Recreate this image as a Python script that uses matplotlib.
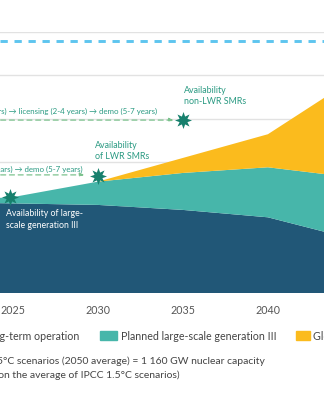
import numpy as np
import matplotlib.pyplot as plt
from matplotlib.patches import Rectangle

plt.rcParams['font.family'] = ['Lato', 'DejaVu Sans']

# capacity in GW (stacked)
years = [2020, 2025, 2030, 2035, 2040, 2045, 2050]
lto = [418, 412, 405, 382, 348, 248, 180]          # existing fleet with long-term operation
gen3 = [0, 29, 107, 170, 230, 283, 300]            # planned large-scale generation III
smr = [0, 0, 0, 69, 152, 452, 680]                 # global SMR potential
ipcc_target = 1160
xticks = [2025, 2030, 2035, 2040, 2045, 2050]

c_blue = '#215777'
c_teal = '#47b6aa'
c_yellow = '#fbbb1d'
c_dash = '#5ec5ef'
c_star = '#17806d'
c_text = '#2a9a82'
c_arrow = '#7cc28d'

W, H = 324, 400
fig = plt.figure(figsize=(W / 100, H / 100), dpi=100)
ax = fig.add_axes([0, 107 / H, 1, 261 / H])

ax.stackplot(years, lto, gen3, smr, colors=[c_blue, c_teal, c_yellow], zorder=2)
ax.axhline(ipcc_target, color=c_dash, lw=2.1, ls=(0, (2.5, 2.3)), zorder=3)

ax.set_xticks(xticks)
ax.set_yticks(range(200, 1201, 200))
ax.set_xlim(2024.24, 2043.3)
ax.set_ylim(0, 1200)
ax.yaxis.grid(True, color='#e2e2e2', lw=1, zorder=0)
ax.set_axisbelow(True)
ax.tick_params(axis='x', length=0, pad=9, labelsize=7.7, labelcolor='#555555')
ax.tick_params(axis='y', left=False, labelleft=False)
for s in ax.spines.values():
    s.set_visible(False)

# pathway arrows
ax.annotate('', xy=(2034.6, 795), xytext=(2020, 795),
            arrowprops=dict(arrowstyle='-|>', color=c_arrow, lw=0.9, ls=(0, (4, 3)),
                            mutation_scale=6), zorder=4)
ax.annotate('', xy=(2029.35, 543), xytext=(2020, 543),
            arrowprops=dict(arrowstyle='-|>', color=c_arrow, lw=0.9, ls=(0, (4, 3)),
                            mutation_scale=6), zorder=4)
ax.text(2033.5, 834, 'design (5-10 years) \u2192 licensing (2-4 years) \u2192 demo (5-7 years)',
        ha='right', va='center', fontsize=5.7, color=c_text, zorder=5)
ax.text(2029.1, 566, 'design (5-10 years) \u2192 demo (5-7 years)',
        ha='right', va='center', fontsize=5.7, color=c_text, zorder=5)

# availability milestones
star_x = [2024.85, 2030, 2035]
star_y = [443, 538, 795]
ax.scatter(star_x, star_y, marker=(8, 1, 0), s=150, color=c_star, zorder=6, lw=0)

ax.text(2035.06, 906, 'Availability\nnon-LWR SMRs', ha='left', va='center',
        fontsize=6.4, color=c_text, linespacing=1.3, zorder=5)
ax.text(2029.82, 653, 'Availability\nof LWR SMRs', ha='left', va='center',
        fontsize=6.4, color=c_text, linespacing=1.3, zorder=5)
ax.text(2024.6, 338, 'Availability of large-\nscale generation III', ha='left', va='center',
        fontsize=6.3, color='white', linespacing=1.3, zorder=5)

# legend row
fy = 1 - 336 / H
fig.text(79 / W, fy, 'Existing reactors with long-term operation', ha='right', va='center',
         fontsize=7.7, color='#444444')
fig.patches.append(Rectangle((100 / W, fy - 4 / H), 17 / W, 9 / H, transform=fig.transFigure,
                             color=c_teal))
fig.text(121 / W, fy, 'Planned large-scale generation III', ha='left', va='center',
         fontsize=7.7, color='#444444')
fig.patches.append(Rectangle((296 / W, fy - 4 / H), 14 / W, 9 / H, transform=fig.transFigure,
                             color=c_yellow))
fig.text(313 / W, fy, 'Global SMR potential', ha='left', va='center',
         fontsize=7.7, color='#444444')

fig.text(265 / W, 1 - 361 / H, 'IPCC 1.5\u00b0C scenarios (2050 average) = 1 160 GW nuclear capacity',
         ha='right', va='center', fontsize=7.45, color='#444444')
fig.text(180 / W, 1 - 375 / H, '(based on the average of IPCC 1.5\u00b0C scenarios)',
         ha='right', va='center', fontsize=7.45, color='#444444')

fig.savefig('out.png', dpi=100)
